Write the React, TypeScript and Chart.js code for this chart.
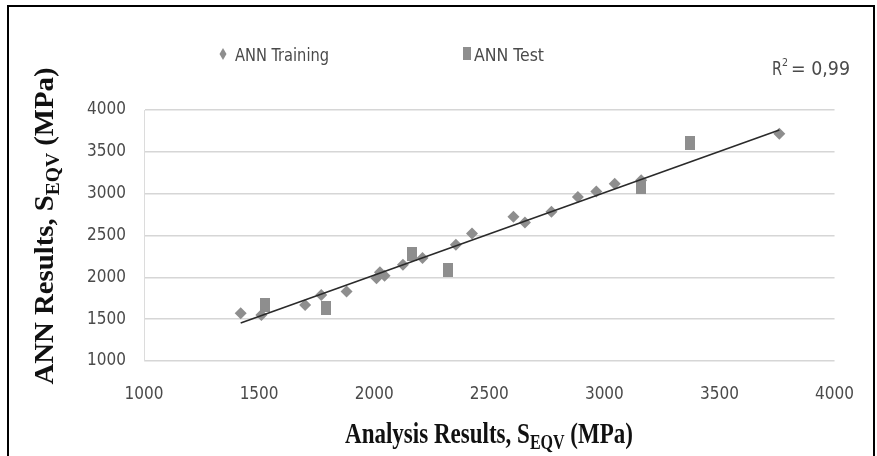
import React, { useEffect, useRef } from "react";
import { Chart, registerables } from "chart.js";
Chart.register(...registerables);

// ---- data ----
const trainingX = [1420, 1510, 1700, 1770, 1880, 2010, 2025, 2045, 2125, 2210, 2355, 2425, 2605, 2655, 2770, 2885, 2965, 3045, 3160, 3760];
const trainingY = [1570, 1550, 1670, 1790, 1830, 1990, 2060, 2020, 2150, 2230, 2390, 2525, 2725, 2655, 2785, 2960, 3025, 3120, 3160, 3715];
const testX = [1525, 1790, 2165, 2320, 3160, 3370];
const testY = [1665, 1635, 2280, 2090, 3085, 3610];
const trendX = [1420, 3760];
const trendY = [1455, 3760];
const xTickValues = [1000, 1500, 2000, 2500, 3000, 3500, 4000];
const xTickLabels = ["1000", "1500", "2000", "2500", "3000", "3500", "4000"];
const yTickValues = [1000, 1500, 2000, 2500, 3000, 3500, 4000];
const yTickLabels = ["1000", "1500", "2000", "2500", "3000", "3500", "4000"];
const seriesNames = ["ANN Training", "ANN Test"];
const r2Label = "0,99";
const xTitle = ["Analysis Results, S", "EQV", " (MPa)"];
const yTitle = ["ANN Results, S", "EQV", " (MPa)"];

const NARROW = "'Liberation Sans Narrow', 'Arial Narrow', 'DejaVu Sans Condensed', sans-serif";
const SERIF = "'Liberation Serif', 'Times New Roman', serif";
const MARK = "#8e8e8e";
const TEXT = "#4a4a4a";

function drawTitle(ctx: CanvasRenderingContext2D, parts: string[], cx: number, cy: number, rotate: boolean, targetLen: number, fontPx: number, vScale: number) {
  const mainF = `bold ${fontPx}px ${SERIF}`;
  const subPx = Math.round(fontPx * 0.68);
  const subF = `bold ${subPx}px ${SERIF}`;
  ctx.font = mainF;
  const w1 = ctx.measureText(parts[0]).width;
  const w3 = ctx.measureText(parts[2]).width;
  ctx.font = subF;
  const w2 = ctx.measureText(parts[1]).width;
  const total = w1 + w2 + w3;
  ctx.save();
  ctx.translate(cx, cy);
  if (rotate) ctx.rotate(-Math.PI / 2);
  ctx.scale(targetLen / total, vScale);
  ctx.fillStyle = "#111";
  ctx.textBaseline = "alphabetic";
  ctx.textAlign = "left";
  let x = -total / 2;
  ctx.font = mainF;
  ctx.fillText(parts[0], x, 0);
  x += w1;
  ctx.font = subF;
  ctx.fillText(parts[1], x, fontPx * 0.2);
  x += w2;
  ctx.font = mainF;
  ctx.fillText(parts[2], x, 0);
  ctx.restore();
}

function drawFitted(ctx: CanvasRenderingContext2D, text: string, x: number, y: number, width: number, font: string) {
  ctx.font = font;
  const w = ctx.measureText(text).width;
  ctx.save();
  ctx.translate(x, y);
  ctx.scale(width / w, 1);
  ctx.fillText(text, 0, 0);
  ctx.restore();
}

const overlay = {
  id: "overlay",
  afterDraw(chart: any) {
    const ctx: CanvasRenderingContext2D = chart.ctx;
    ctx.save();
    // legend
    ctx.fillStyle = MARK;
    ctx.beginPath();
    ctx.moveTo(223, 48);
    ctx.lineTo(226.5, 54);
    ctx.lineTo(223, 60);
    ctx.lineTo(219.5, 54);
    ctx.closePath();
    ctx.fill();
    ctx.fillRect(463, 47, 8, 13);
    ctx.fillStyle = TEXT;
    ctx.textBaseline = "alphabetic";
    ctx.textAlign = "left";
    drawFitted(ctx, seriesNames[0], 235, 61, 94, `18px ${NARROW}`);
    drawFitted(ctx, seriesNames[1], 474, 61, 70, `18px ${NARROW}`);
    // R²
    drawFitted(ctx, "R", 772, 75, 10, `19px ${NARROW}`);
    drawFitted(ctx, "2", 782, 66, 6, `11px ${NARROW}`);
    drawFitted(ctx, "= " + r2Label, 791, 75, 59, `19px ${NARROW}`);
    ctx.restore();
    // axis titles
    drawTitle(ctx, xTitle, 489, 443, false, 288, 23, 1.3);
    drawTitle(ctx, yTitle, 53, 226, true, 317, 28, 1.0);
  },
};

export default function App() {
  const ref = useRef<HTMLCanvasElement>(null);
  useEffect(() => {
    if (!ref.current) return;
    const sq = document.createElement("canvas");
    sq.width = 10;
    sq.height = 14;
    const sctx = sq.getContext("2d")!;
    sctx.fillStyle = MARK;
    sctx.fillRect(0, 0, 10, 14);

    const chart = new Chart(ref.current, {
      type: "scatter",
      data: {
        datasets: [
          {
            type: "line",
            label: "trend",
            data: trendX.map((x, i) => ({ x, y: trendY[i] })),
            borderColor: "#2a2a2a",
            borderWidth: 1.6,
            pointRadius: 0,
            fill: false,
            order: 0,
          } as any,
          {
            label: seriesNames[0],
            data: trainingX.map((x, i) => ({ x, y: trainingY[i] })),
            pointStyle: "rectRot",
            pointRadius: 6,
            backgroundColor: MARK,
            borderColor: MARK,
            borderWidth: 0,
            order: 1,
          },
          {
            label: seriesNames[1],
            data: testX.map((x, i) => ({ x, y: testY[i] })),
            pointStyle: sq,
            pointRadius: 7,
            backgroundColor: MARK,
            borderColor: MARK,
            order: 2,
          },
        ],
      },
      options: {
        animation: false,
        responsive: false,
        layout: { padding: { left: 0, right: 40, top: 110, bottom: 0 } },
        plugins: { legend: { display: false }, tooltip: { enabled: false } },
        scales: {
          x: {
            type: "linear",
            min: 1000,
            max: 4000,
            afterFit: (s: any) => { s.height = 95; },
            afterBuildTicks: (s: any) => { s.ticks = xTickValues.map((v) => ({ value: v })); },
            ticks: {
              font: { family: NARROW, size: 17 },
              color: TEXT,
              padding: 23,
              maxRotation: 0,
              autoSkip: false,
              callback: (_v: any, i: number) => xTickLabels[i],
            },
            grid: { display: false, drawTicks: false },
            border: { display: false },
          },
          y: {
            min: 1000,
            max: 4000,
            afterFit: (s: any) => { s.width = 144; },
            afterBuildTicks: (s: any) => { s.ticks = yTickValues.map((v) => ({ value: v })); },
            ticks: {
              font: { family: NARROW, size: 17 },
              color: TEXT,
              padding: 18,
              autoSkip: false,
              callback: (_v: any, i: number) => yTickLabels[i],
            },
            grid: { color: "#d6d6d6", lineWidth: 1.5, drawTicks: false },
            border: { display: true, color: "#dcdcdc", width: 1 },
          },
        },
      },
      plugins: [overlay],
    });
    return () => chart.destroy();
  }, []);

  return (
    <div style={{ position: "fixed", left: 0, top: 0, width: 877, height: 456, overflow: "hidden", background: "#fff" }}>
      <canvas ref={ref} width={877} height={456} style={{ position: "absolute", left: 0, top: 0, width: 877, height: 456 }} />
      <div style={{ position: "absolute", left: 7, top: 5, width: 864, height: 480, border: "2px solid #000", pointerEvents: "none" }} />
    </div>
  );
}
